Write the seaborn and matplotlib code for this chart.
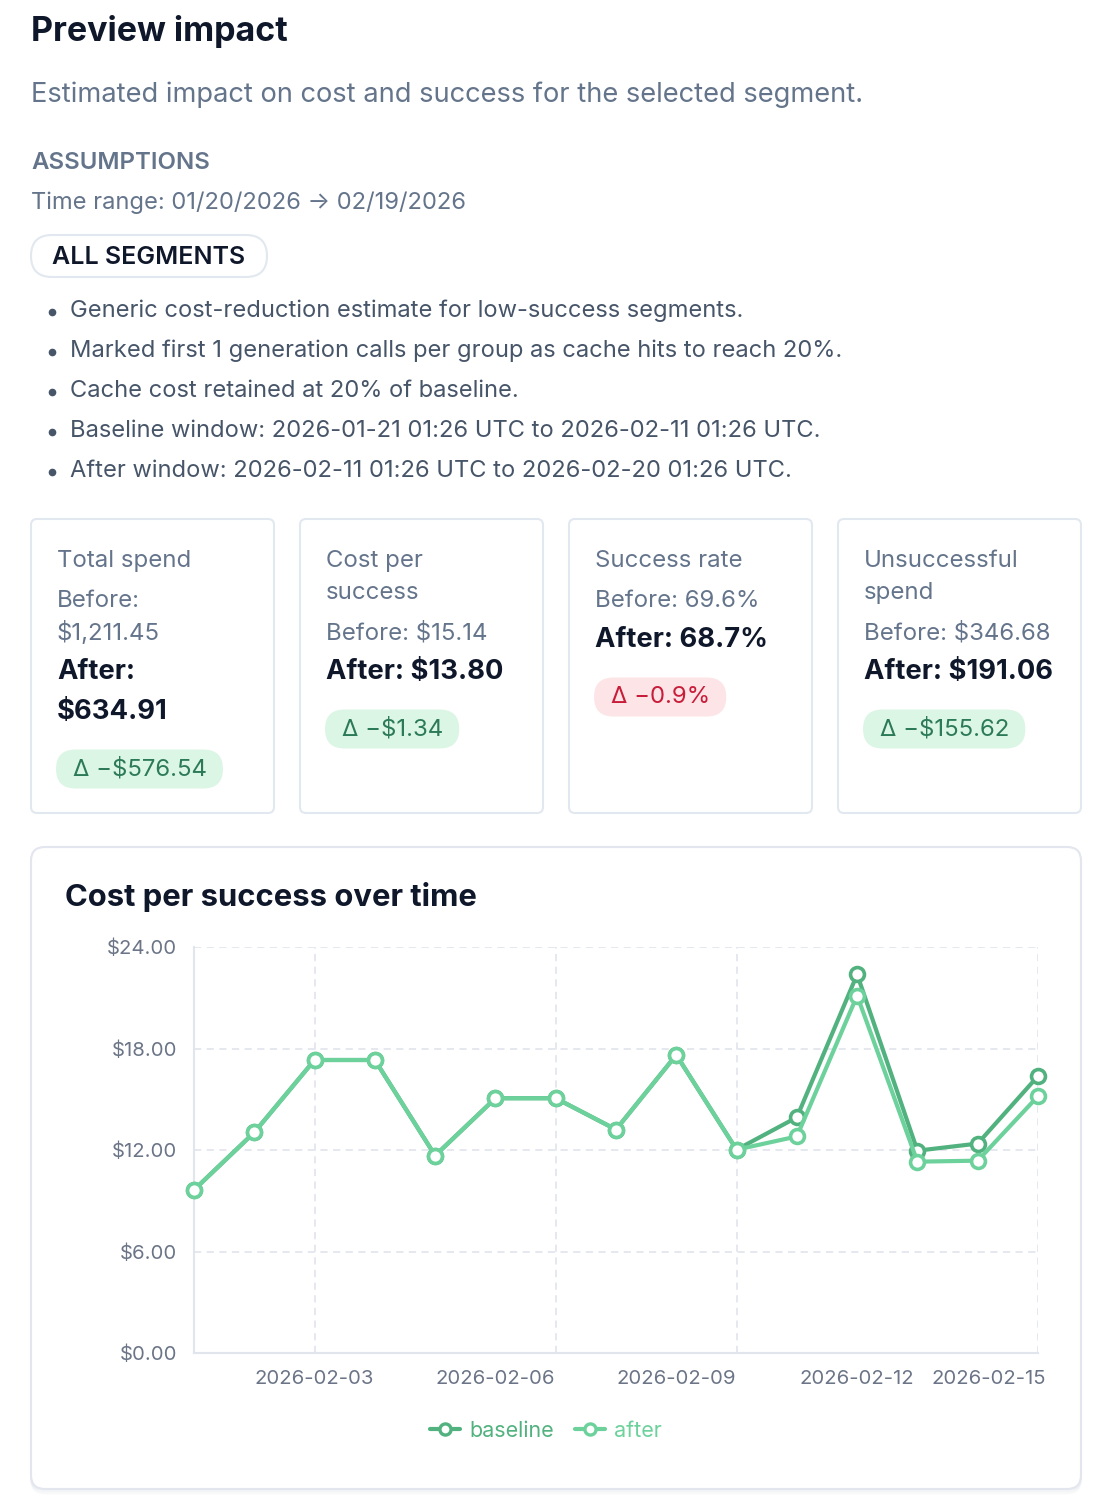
import numpy as np
import pandas as pd
import seaborn as sns
import matplotlib.pyplot as plt
import matplotlib.transforms as mtransforms
from matplotlib.patches import FancyBboxPatch
from matplotlib.lines import Line2D

sns.set_theme(style="white")
plt.rcParams['font.family'] = ['Inter', 'DejaVu Sans']

# chart data
dates = ["2026-02-01", "2026-02-02", "2026-02-03", "2026-02-04", "2026-02-05",
         "2026-02-06", "2026-02-07", "2026-02-08", "2026-02-09", "2026-02-10",
         "2026-02-11", "2026-02-12", "2026-02-13", "2026-02-14", "2026-02-15"]
baseline = [9.64, 13.04, 17.32, 17.32, 11.67, 15.06, 15.06, 13.21, 17.62, 12.02,
            13.93, 22.38, 11.96, 12.38, 16.37]
after = [9.64, 13.04, 17.32, 17.32, 11.67, 15.06, 15.06, 13.21, 17.62, 12.02,
         12.80, 21.13, 11.31, 11.37, 15.18]
y_ticks = [0, 6, 12, 18, 24]
x_label_dates = ["2026-02-03", "2026-02-06", "2026-02-09", "2026-02-12", "2026-02-15"]
x_grid_dates = ["2026-02-03", "2026-02-07", "2026-02-10", "2026-02-15"]

bullets = [
    "Generic cost-reduction estimate for low-success segments.",
    "Marked first 1 generation calls per group as cache hits to reach 20%.",
    "Cache cost retained at 20% of baseline.",
    "Baseline window: 2026-01-21 01:26 UTC to 2026-02-11 01:26 UTC.",
    "After window: 2026-02-11 01:26 UTC to 2026-02-20 01:26 UTC.",
]
card_titles = [["Total spend"], ["Cost per", "success"], ["Success rate"], ["Unsuccessful", "spend"]]
card_before = [["Before:", "$1,211.45"], ["Before: $15.14"], ["Before: 69.6%"], ["Before: $346.68"]]
card_after = [["After:", "$634.91"], ["After: $13.80"], ["After: 68.7%"], ["After: $191.06"]]
card_delta = ["\u0394 \u2212$576.54", "\u0394 \u2212$1.34", "\u0394 \u22120.9%", "\u0394 \u2212$155.62"]
card_good = [True, True, False, True]

DARK = "#0f172a"
MUTED = "#64748b"
BODY = "#475569"
BORDER = "#e2e8f0"
C_BASE = "#52b27f"
C_AFTER = "#6dd19c"

W, H = 1104, 1496
fig = plt.figure(figsize=(W / 100, H / 100), dpi=100)
fig.patch.set_facecolor("white")

bg = fig.add_axes([0, 0, 1, 1])
bg.set_xlim(0, W)
bg.set_ylim(H, 0)
bg.axis("off")


def px(size):
    return size * 72 / 100


def box(x0, y0, x1, y1, r, fc, ec, lw=1.5, z=1):
    p = FancyBboxPatch((x0 + r, y0 + r), x1 - x0 - 2 * r, y1 - y0 - 2 * r,
                       boxstyle=f"round,pad={r}", fc=fc, ec=ec, lw=lw, zorder=z)
    bg.add_patch(p)


# header
bg.text(31, 31, "Preview impact", fontsize=px(34), fontweight="bold", color=DARK, va="center")
bg.text(31, 95, "Estimated impact on cost and success for the selected segment.",
        fontsize=px(27.3), color=MUTED, va="center")
bg.text(31, 163, "ASSUMPTIONS", fontsize=px(24), fontweight="semibold", color=MUTED, va="center")
bg.text(31, 203, "Time range: 01/20/2026 \u2192 02/19/2026", fontsize=px(23.7), color=MUTED, va="center")
box(31, 235, 267, 277, 21, "white", BORDER, lw=1.5)
bg.text(149, 257, "ALL SEGMENTS", fontsize=px(25), fontweight="semibold", color=DARK,
        va="center", ha="center")
for i, b in enumerate(bullets):
    y = 311 + 40 * i
    bg.plot(52, y + 1, "o", ms=4.5, color=BODY)
    bg.text(70, y, b, fontsize=px(23.7), color=BODY, va="center")

# metric cards
card_x = [31, 300, 569, 838]
for i in range(4):
    x0 = card_x[i]
    box(x0, 519, x0 + 243, 813, 6, "white", BORDER, lw=1.5)
    tx = x0 + 26
    y = 561
    for t in card_titles[i]:
        bg.text(tx, y, t, fontsize=px(24), color=MUTED, va="center")
        y += 32
    y += 8
    for t in card_before[i]:
        bg.text(tx, y, t, fontsize=px(24), color=MUTED, va="center")
        y += 32
    y += 7
    for t in card_after[i]:
        bg.text(tx, y, t, fontsize=px(27.4), fontweight="bold", color=DARK, va="center")
        y += 40
    y += 17
    good = card_good[i]
    t = bg.text(tx + 16, y, card_delta[i], fontsize=px(24), va="center",
                color="#2c7a57" if good else "#c81d3a", zorder=3)
    fig.canvas.draw()
    bb = t.get_window_extent().transformed(bg.transData.inverted())
    box(tx - 1, y - 19.5, bb.x1 + 16, y + 19.5, 19.5,
        "#dcf6e6" if good else "#fde4e7", "none", lw=0, z=2)

# chart card with soft bottom shadow
for k in range(6):
    box(31, 847 + k * 0.5, 1081, 1490 + k * 0.8, 14, "none", (0.85, 0.87, 0.9, 0.18 - k * 0.025), lw=1.2)
box(31, 847, 1081, 1489, 14, "white", "#e3e6ee", lw=1.5)
bg.text(65, 897, "Cost per success over time", fontsize=px(31), fontweight="bold", color=DARK, va="center")

df = pd.DataFrame({
    "date": dates * 2,
    "value": baseline + after,
    "series": ["baseline"] * len(dates) + ["after"] * len(dates),
})
df["idx"] = df["date"].map({d: i for i, d in enumerate(dates)})

left, right, top, bottom = 194, 1038, 947, 1353
ax = fig.add_axes([left / W, 1 - bottom / H, (right - left) / W, (bottom - top) / H])
ax.set_facecolor("none")
sns.lineplot(data=df, x="idx", y="value", hue="series", hue_order=["baseline", "after"],
             palette={"baseline": C_BASE, "after": C_AFTER}, marker="o", ms=10,
             markerfacecolor="white", markeredgewidth=2.6, lw=3, legend=False,
             ax=ax, clip_on=False, zorder=5)
for ln in ax.lines:
    ln.set_markeredgecolor(ln.get_color())
ax.set_xlim(0, len(dates) - 1)
ax.set_ylim(0, 24)
ax.set_yticks(y_ticks)
ax.set_yticklabels([f"${v:.2f}" for v in y_ticks])
ax.set_xticks([dates.index(d) for d in x_label_dates])
ax.set_xticklabels(x_label_dates)
ax.tick_params(axis="both", length=0, labelsize=px(20.3), colors="#6b7587")
ax.tick_params(axis="y", pad=12)
ax.tick_params(axis="x", pad=12)
# last label is pulled left so it stays inside the card
last = ax.get_xticklabels()[-1]
last.set_transform(last.get_transform() + mtransforms.ScaledTranslation(-0.49, 0, fig.dpi_scale_trans))
ax.set_xlabel("")
ax.set_ylabel("")
for y in y_ticks[1:]:
    ax.axhline(y, color="#e3e7ee", lw=1.3, ls=(0, (4, 3)), zorder=0)
for d in x_grid_dates:
    ax.axvline(dates.index(d), color="#e3e7ee", lw=1.3, ls=(0, (4, 3)), zorder=0)
for s in ["top", "right"]:
    ax.spines[s].set_visible(False)
for s in ["left", "bottom"]:
    ax.spines[s].set_color("#e1e5ec")
    ax.spines[s].set_linewidth(1.5)

handles = [Line2D([], [], color=c, lw=3, marker="o", ms=8, markerfacecolor="white",
                  markeredgewidth=2.4, markeredgecolor=c) for c in (C_BASE, C_AFTER)]
fig.legend(handles, ["baseline", "after"], loc="center", bbox_to_anchor=(546 / W, 1 - 1431 / H),
           ncol=2, frameon=False, fontsize=px(21.5), labelcolor=[C_BASE, C_AFTER],
           handlelength=1.4, handletextpad=0.4, columnspacing=1.0)

fig.savefig("out.png", dpi=100, facecolor="white")
